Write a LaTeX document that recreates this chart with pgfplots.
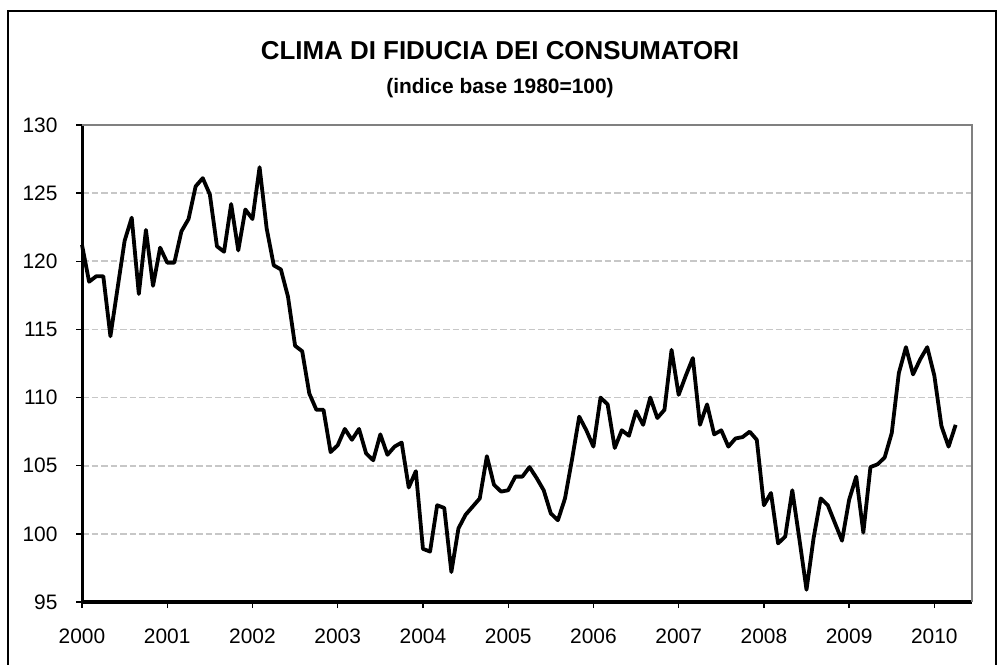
\documentclass[border=0pt]{standalone}
\usepackage{pgfplots}
\pgfplotsset{compat=1.18}
\usepackage{fontspec}
\setmainfont{Liberation Sans}
\begin{document}
\begin{tikzpicture}
\begin{axis}[
  at={(82bp,63bp)}, anchor=south west,
  scale only axis, width=890bp, height=477bp,
  xmin=0, xmax=125.3, ymin=95, ymax=130,
  axis lines=left,
  axis line style={-, line width=3bp, black},
  xtick={0,12,...,120},
  xticklabels={2000,2001,2002,2003,2004,2005,2006,2007,2008,2009,2010},
  ytick={95,100,...,130},
  tick align=outside,
  major tick length=6bp,
  tick style={line width=1.3bp, black},
  ymajorgrids,
  grid style={dash pattern=on 6.5bp off 3bp, line width=1.6bp, color=black!22},
  /pgf/number format/assume math mode=true,
  ticklabel style={font=\fontsize{21}{23}\selectfont},
  xticklabel style={yshift=-17bp},
  yticklabel style={xshift=-15bp},
  clip=false,
]
\draw[line width=2.2bp, black!50] (rel axis cs:0,1) -- (rel axis cs:1,1) -- (rel axis cs:1,0);
\addplot[black, line width=3.8bp, line join=round] table[x=i, y=v] {
i v
0 121.2
1 118.5
2 118.9
3 118.9
4 114.5
5 118.0
6 121.5
7 123.2
8 117.6
9 122.3
10 118.2
11 121.0
12 119.9
13 119.9
14 122.2
15 123.1
16 125.5
17 126.1
18 124.9
19 121.1
20 120.7
21 124.2
22 120.8
23 123.8
24 123.1
25 126.9
26 122.4
27 119.7
28 119.4
29 117.4
30 113.8
31 113.4
32 110.3
33 109.1
34 109.1
35 106.0
36 106.5
37 107.7
38 106.9
39 107.7
40 105.9
41 105.4
42 107.3
43 105.8
44 106.4
45 106.7
46 103.4
47 104.6
48 98.9
49 98.7
50 102.1
51 101.9
52 97.2
53 100.4
54 101.4
55 102.0
56 102.6
57 105.7
58 103.6
59 103.1
60 103.2
61 104.2
62 104.2
63 104.9
64 104.1
65 103.2
66 101.5
67 101.0
68 102.6
69 105.5
70 108.6
71 107.6
72 106.4
73 110.0
74 109.5
75 106.3
76 107.6
77 107.2
78 109.0
79 108.0
80 110.0
81 108.5
82 109.1
83 113.5
84 110.2
85 111.6
86 112.9
87 108.0
88 109.5
89 107.3
90 107.6
91 106.4
92 107.0
93 107.1
94 107.5
95 106.9
96 102.1
97 103.0
98 99.3
99 99.8
100 103.2
101 99.6
102 95.9
103 99.7
104 102.6
105 102.1
106 100.8
107 99.5
108 102.5
109 104.2
110 100.1
111 104.9
112 105.1
113 105.6
114 107.4
115 111.8
116 113.7
117 111.7
118 112.8
119 113.7
120 111.6
121 107.9
122 106.4
123 108.0
};
\end{axis}
\node[font=\bfseries\fontsize{26}{30}\selectfont] at (500bp,614bp) {CLIMA DI FIDUCIA DEI CONSUMATORI};
\node[font=\bfseries\fontsize{21}{24}\selectfont] at (500bp,577bp) {(indice base 1980=100)};
\draw[line width=1.6bp] (8bp,-10bp) -- (8bp,654bp) -- (996bp,654bp) -- (996bp,-10bp);
\pgfresetboundingbox
\path[use as bounding box] (0,0) rectangle (999bp,665bp);
\end{tikzpicture}
\end{document}
